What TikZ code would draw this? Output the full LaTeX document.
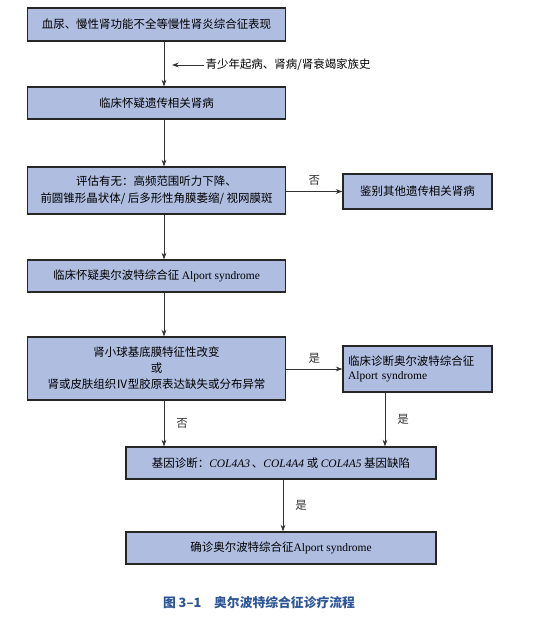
\documentclass[tikz,border=0pt]{standalone}
\usepackage{fontspec}
\setmainfont{Noto Sans CJK SC}
\newfontfamily\enfont{Liberation Serif}
\usetikzlibrary{arrows.meta,positioning}
\definecolor{boxfill}{HTML}{AEBDE0}
\definecolor{capblue}{HTML}{2D5597}
\tikzset{
	box/.style n args={2}{draw=black!85, line width=0.9pt, fill=boxfill, minimum width=#1, minimum height=#2, align=center, inner sep=2pt, font=\fontsize{8.6}{12.5}\selectfont},
	arr/.style={-{Stealth[length=5pt,width=3.6pt]}, line width=0.7pt, black!80},
	lbl/.style={font=\fontsize{8.6}{10}\selectfont, inner sep=1pt}
}
\newcommand{\en}[1]{{\enfont #1}}
\newcommand{\gene}[1]{{\enfont\itshape #1}}

\begin{document}
\begin{tikzpicture}[x=0.75pt,y=-0.75pt]
	\useasboundingbox (0,0) rectangle (543,617);
	
	% Boxes
	\node[box={194pt}{24.75pt}] (sym) at (156.5,24.5) {血尿、慢性肾功能不全等慢性肾炎综合征表现};
	\node[box={194pt}{24pt}] (heri) at (156.5,103) {临床怀疑遗传相关肾病};
	\node[box={194pt}{35.25pt}] (eval) at (156.5,190.5) {评估有无：高频范围听力下降、\\前圆锥形晶状体/ 后多形性角膜萎缩/ 视网膜斑};
	\node[box={111.75pt}{26.25pt}] (other) at (417.5,191.5) {鉴别其他遗传相关肾病};
	\node[box={194pt}{24pt}] (susp) at (156.5,276) {临床怀疑奥尔波特综合征 \en{Alport syndrome}};
	\node[box={194pt}{47.25pt}, font=\fontsize{8.6}{12}\selectfont] (gbm) at (156.5,368.5) {肾小球基底膜特征性改变\\或\\肾或皮肤组织Ⅳ型胶原表达缺失或分布异常};
	\node[box={111.75pt}{34.5pt}, align=left, text width=104pt, font=\fontsize{8.6}{10}\selectfont] (clin) at (417.5,369) {临床诊断奥尔波特综合征\\\en{Alport syndrome}};
	\node[box={232.5pt}{24pt}] (gene) at (281,463) {基因诊断：\gene{COL4A3}\,、\gene{COL4A4} 或 \gene{COL4A5} 基因缺陷};
	\node[box={232.5pt}{24pt}] (conf) at (281,548) {确诊奥尔波特综合征\en{Alport syndrome}};
	
	% Main line and side arrows
	\coordinate (spine) at (164,0);
	\coordinate (right) at (385,0);
	\draw[arr] (sym.south -| spine) -- (heri.north -| spine);
	\node[lbl, anchor=west] (hist) at (204,65) {青少年起病、肾病/肾衰竭家族史};
	\coordinate (histend) at (172,65);
	\draw[arr] (hist.west) -- (histend);
	\draw[arr] (heri.south -| spine) -- (eval.north -| spine);
	\draw[arr] (eval.east |- other.west) -- (other.west) node[lbl, midway, above=3pt] (no1) {否};
	\draw[arr] (eval.south -| spine) -- (susp.north -| spine);
	\draw[arr] (susp.south -| spine) -- (gbm.north -| spine);
	\draw[arr] (gbm.east |- clin.west) -- (clin.west) node[lbl, midway, above=3pt] (yes1) {是};
	\draw[arr] (gbm.south -| spine) -- (gene.north -| spine) node[lbl, midway, right=8pt] (no2) {否};
	\draw[arr] (clin.south -| right) -- (gene.north -| right) node[lbl, midway, right=8pt] (yes2) {是};
	\draw[arr] (gene.south -| 283,0) -- (conf.north -| 283,0) node[lbl, midway, right=8pt] (yes3) {是};
	
	% Caption
	\node[font=\fontsize{9.6}{11}\selectfont\bfseries, text=capblue] (cap) at (259,603) {图 3–1\quad 奥尔波特综合征诊疗流程};
\end{tikzpicture}
\end{document}
